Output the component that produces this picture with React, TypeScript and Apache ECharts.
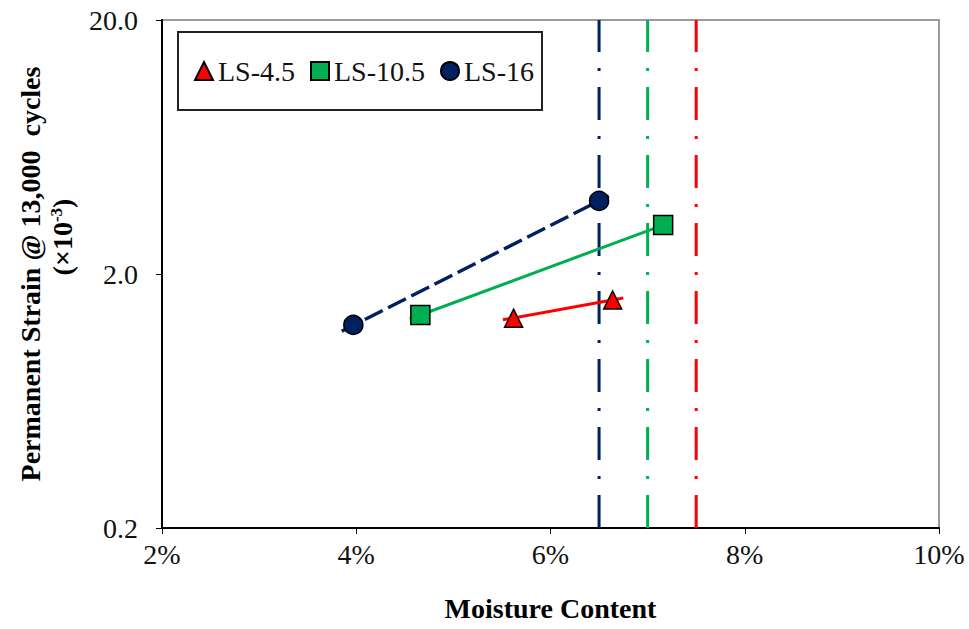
import React, { useEffect, useRef } from "react";
import * as echarts from "echarts";

const xTicks = [2, 4, 6, 8, 10];
const yTicks = [0.2, 2, 20];

const ls45X = [5.62, 6.64];
const ls45Y = [1.34, 1.58];
const ls45TrendX = [5.51, 6.75];
const ls45TrendY = [1.32, 1.61];

const ls105X = [4.66, 7.16];
const ls105Y = [1.38, 3.12];
const ls105TrendX = [4.55, 7.25];
const ls105TrendY = [1.33, 3.21];

const ls16X = [3.97, 6.5];
const ls16Y = [1.26, 3.88];
const ls16TrendX = [3.85, 6.6];
const ls16TrendY = [1.19, 4.06];

const limitNames = ["LS-16 limit", "LS-10.5 limit", "LS-4.5 limit"];
const limitX = [6.5, 7.0, 7.5];

const NAVY = "#002060";
const GREEN = "#00B050";
const RED = "#FF0000";
const limitColors = [NAVY, GREEN, RED];

const FONT = "'Liberation Serif', 'Times New Roman', serif";

const zip = (xs: number[], ys: number[]) => xs.map((x, i) => [x, ys[i]]);

export default function App() {
  const ref = useRef<HTMLDivElement>(null);
  useEffect(() => {
    if (!ref.current) return;
    const chart = echarts.init(ref.current, null, { renderer: "svg" });
    const yMin = yTicks[0];
    const yMax = yTicks[yTicks.length - 1];
    const limitSeries = limitX.map((x, i) => ({
      name: limitNames[i],
      type: "line",
      data: [
        [x, yMin],
        [x, yMax],
      ],
      symbol: "none",
      z: 1,
      lineStyle: { color: limitColors[i], width: 3, type: [33, 16, 3, 16] },
    }));
    chart.setOption({
      animation: false,
      backgroundColor: "#fff",
      textStyle: { fontFamily: FONT },
      grid: {
        left: 162,
        right: 30,
        top: 20,
        bottom: 101,
        show: true,
        borderColor: "#9a9a9a",
        borderWidth: 2,
      },
      legend: {
        left: 178,
        top: 32,
        orient: "horizontal",
        data: [
          { name: "LS-4.5", icon: "triangle" },
          { name: "LS-10.5", icon: "rect" },
          { name: "LS-16", icon: "circle" },
        ],
        itemWidth: 18,
        itemHeight: 18,
        itemGap: 15,
        padding: [25, 8, 25, 16],
        borderColor: "#222",
        borderWidth: 2,
        textStyle: { fontFamily: FONT, fontSize: 28, color: "#111" },
      },
      xAxis: {
        type: "value",
        min: xTicks[0],
        max: xTicks[xTicks.length - 1],
        interval: 2,
        name: "Moisture Content",
        nameLocation: "middle",
        nameGap: 66,
        nameTextStyle: { fontFamily: FONT, fontSize: 28, fontWeight: "bold", color: "#000" },
        axisLine: { lineStyle: { color: "#000", width: 2 } },
        axisTick: { show: true, length: 6, lineStyle: { color: "#000" } },
        splitLine: { show: false },
        axisLabel: {
          fontFamily: FONT,
          fontSize: 28,
          color: "#111",
          margin: 12,
          formatter: (v: number) => `${v}%`,
        },
      },
      yAxis: {
        type: "log",
        logBase: 10,
        min: yMin,
        max: yMax,
        interval: 1,
        name: "Permanent Strain @ 13,000  cycles",
        nameLocation: "middle",
        nameGap: 118,
        nameTextStyle: { fontFamily: FONT, fontSize: 28, fontWeight: "bold", color: "#000" },
        axisLine: { show: true, lineStyle: { color: "#000", width: 2 } },
        axisTick: { show: true, length: 6, lineStyle: { color: "#000" } },
        minorTick: { show: false },
        splitLine: { show: false },
        axisLabel: {
          fontFamily: FONT,
          fontSize: 28,
          color: "#111",
          margin: 24,
          formatter: (v: number) => v.toFixed(1),
        },
      },
      graphic: [
        {
          type: "text",
          x: 62,
          y: 237,
          rotation: Math.PI / 2,
          style: {
            text: "{b|(×10}{s|-3}{b|)}",
            align: "center",
            verticalAlign: "middle",
            rich: {
              b: { fontFamily: FONT, fontSize: 28, fontWeight: "bold", fill: "#000", color: "#000" },
              s: {
                fontFamily: FONT,
                fontSize: 17,
                fontWeight: "bold",
                fill: "#000",
                color: "#000",
                verticalAlign: "top",
                padding: [0, 0, 12, 0],
              },
            },
          },
        },
      ],
      series: [
        ...limitSeries,
        {
          name: "LS-4.5 trend",
          type: "line",
          data: zip(ls45TrendX, ls45TrendY),
          symbol: "none",
          z: 2,
          lineStyle: { color: RED, width: 3 },
        },
        {
          name: "LS-10.5 trend",
          type: "line",
          data: zip(ls105TrendX, ls105TrendY),
          symbol: "none",
          z: 2,
          lineStyle: { color: GREEN, width: 3 },
        },
        {
          name: "LS-16 trend",
          type: "line",
          data: zip(ls16TrendX, ls16TrendY),
          symbol: "none",
          z: 2,
          lineStyle: { color: NAVY, width: 3.5, type: [20, 6] },
        },
        {
          name: "LS-4.5",
          type: "scatter",
          data: zip(ls45X, ls45Y),
          symbol: "triangle",
          symbolSize: 18,
          z: 3,
          itemStyle: { color: RED, borderColor: "#000", borderWidth: 1.5, opacity: 1 },
        },
        {
          name: "LS-10.5",
          type: "scatter",
          data: zip(ls105X, ls105Y),
          symbol: "rect",
          symbolSize: 19,
          z: 3,
          itemStyle: { color: GREEN, borderColor: "#000", borderWidth: 1.5, opacity: 1 },
        },
        {
          name: "LS-16",
          type: "scatter",
          data: zip(ls16X, ls16Y),
          symbol: "circle",
          symbolSize: 19,
          z: 3,
          itemStyle: { color: NAVY, borderColor: "#000", borderWidth: 1.5, opacity: 1 },
        },
      ],
    });
    return () => chart.dispose();
  }, []);
  return (
    <div
      ref={ref}
      style={{ position: "fixed", left: 0, top: 0, width: 969, height: 629, background: "#fff" }}
    />
  );
}
